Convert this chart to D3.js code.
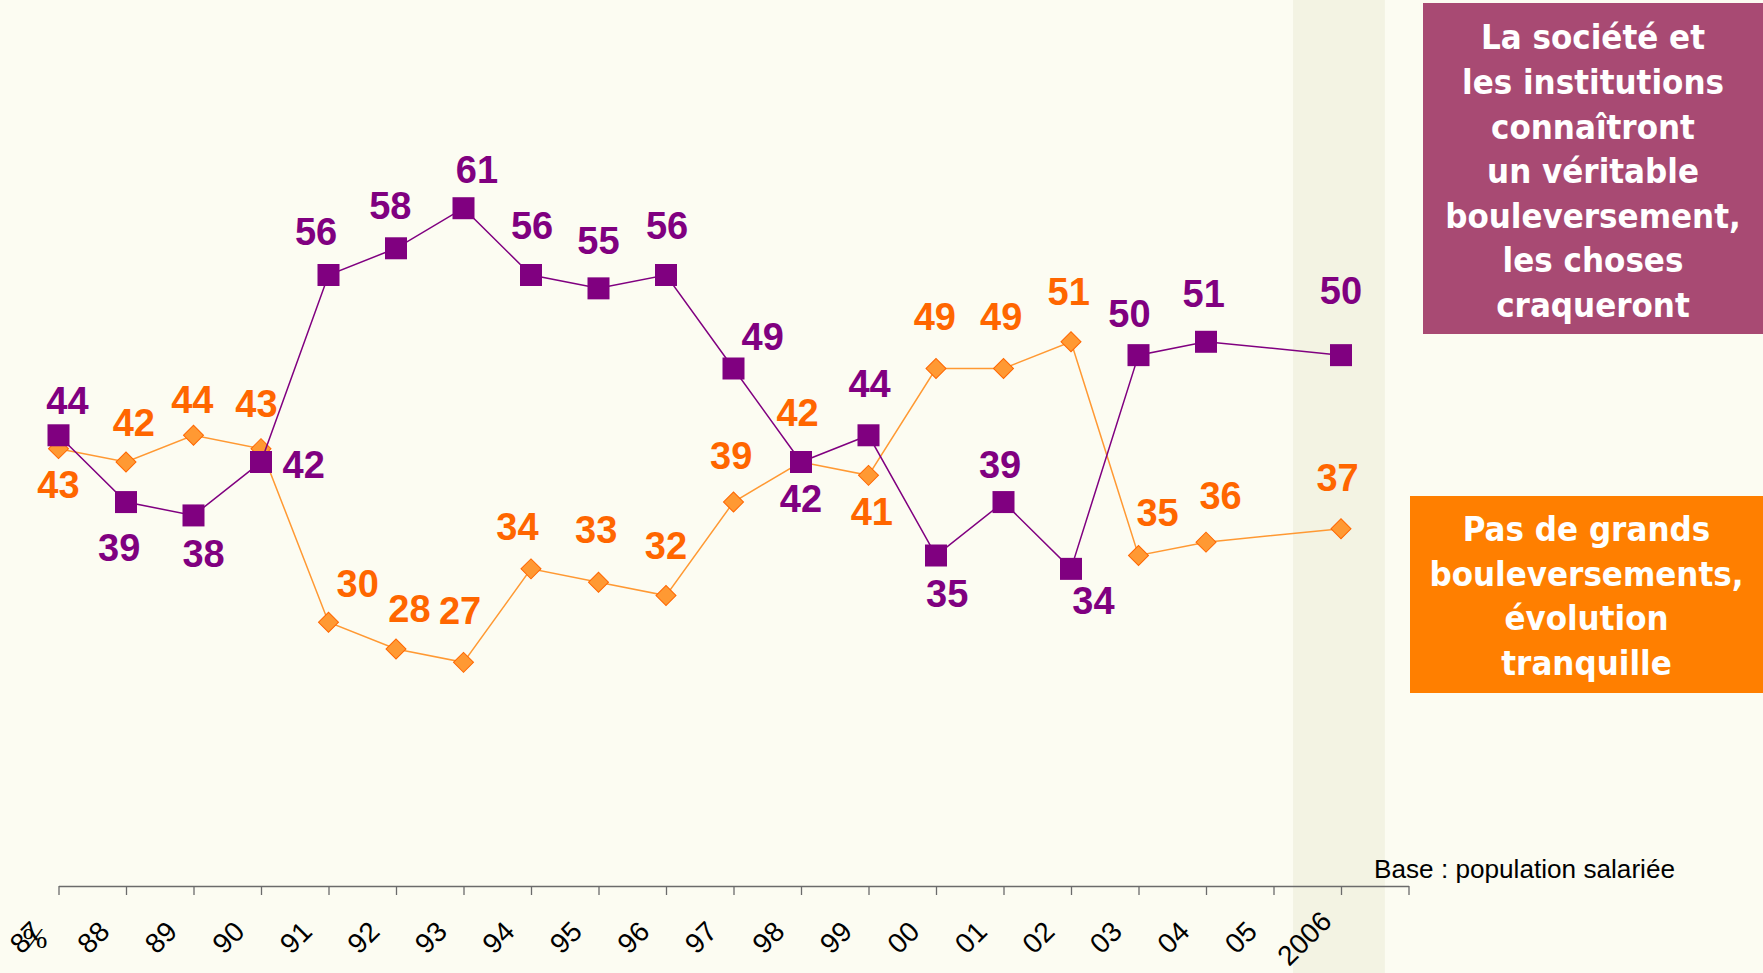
<!DOCTYPE html>
<html>
<head>
<meta charset="utf-8">
<script src="https://cdn.jsdelivr.net/npm/d3@7"></script>
<style>
  html, body { margin: 0; padding: 0; background: #fcfcf2; }
  svg { display: block; }
</style>
</head>
<body>
<div id="chart"></div>
<script>
// années (05 sans mesure)
const categories = ["87", "88", "89", "90", "91", "92", "93", "94", "95", "96", "97", "98", "99", "00", "01", "02", "03", "04", "05", "2006"];
// "La société et les institutions connaîtront un véritable bouleversement"
const bouleversement = [44, 39, 38, 42, 56, 58, 61, 56, 55, 56, 49, 42, 44, 35, 39, 34, 50, 51, null, 50];
// "Pas de grands bouleversements, évolution tranquille"
const tranquille = [43, 42, 44, 43, 30, 28, 27, 34, 33, 32, 39, 42, 41, 49, 49, 51, 35, 36, null, 37];

const purpleText = ["La société et", "les institutions", "connaîtront", "un véritable", "bouleversement,", "les choses", "craqueront"];
const orangeText = ["Pas de grands", "bouleversements,", "évolution", "tranquille"];

// décalage des étiquettes de valeur (px, en coordonnées réduites)
const K = 1763 / 1568;
const purpleLab = [[8,-31],[-6,40],[9,34],[38,2],[-11,-39],[-5,-38],[12,-35],[1,-44],[0,-43],[1,-44],[26,-29],[0,32],[1,-46],[10,34],[-3,-34],[20,28],[-8,-37],[-2,-43],null,[0,-58]];
const orangeLab = [[0,32],[7,-35],[-1,-32],[-4,-40],[26,-35],[12,-36],[-3,-46],[-12,-38],[-2,-47],[0,-45],[-2,-42],[-3,-44],[3,32],[-1,-46],[-2,-46],[-2,-45],[17,-38],[13,-42],null,[-3,-46]];

const W = 1763, H = 973;
const PURPLE = "#800080", ORANGE = "#ff6600", ORANGE_L = "#ff9933";

const svg = d3.select("#chart").append("svg").attr("width", W).attr("height", H);

svg.append("rect").attr("width", W).attr("height", H).attr("fill", "#fcfcf2");

const x = d3.scaleLinear().domain([0, 20]).range([58.5, 1408.5]);
const y = d3.scaleLinear().domain([0, 70]).range([1023, 88]);

// bande 2006
svg.append("rect")
  .attr("x", x(18.29)).attr("y", 0)
  .attr("width", x(19.65) - x(18.29)).attr("height", H)
  .attr("fill", "#f3f3e3");

// axe
const axisG = svg.append("g").attr("transform", "translate(0,886)")
  .call(d3.axisBottom(x).tickValues(d3.range(21)).tickFormat("").tickSize(9).tickSizeOuter(0));
axisG.select(".domain").attr("stroke", "#6b6b6b").attr("stroke-width", 1.5);
axisG.selectAll(".tick line").attr("stroke", "#6b6b6b").attr("stroke-width", 1.3);

svg.append("g").selectAll("text")
  .data(categories)
  .join("text")
  .attr("transform", (d, i) => d.length > 2
    ? `translate(${x(i) - 37},${938}) rotate(-45)`
    : `translate(${x(i) - 33},${937}) rotate(-45)`)
  .attr("text-anchor", "middle")
  .attr("dy", "0.36em")
  .attr("font-family", "Liberation Sans, Arial, sans-serif")
  .attr("font-size", 28)
  .attr("fill", "#000")
  .text(d => d);

svg.append("text")
  .attr("x", 35).attr("y", 948)
  .attr("text-anchor", "middle")
  .attr("font-family", "Liberation Serif, Times New Roman, serif")
  .attr("font-size", 30)
  .text("%");

svg.append("text")
  .attr("x", 1374).attr("y", 878)
  .attr("font-family", "Liberation Sans Narrow, Liberation Sans, Arial, sans-serif")
  .attr("font-size", 26)
  .attr("textLength", 301).attr("lengthAdjust", "spacingAndGlyphs")
  .text("Base : population salariée");

function series(values, lab, lineColor, textColor, marker) {
  const pts = values.map((v, i) => ({ i, v, lab: lab[i] })).filter(d => d.v !== null);
  const line = d3.line().x(d => x(d.i)).y(d => y(d.v));
  const g = svg.append("g");
  g.append("path").datum(pts)
    .attr("d", line).attr("fill", "none")
    .attr("stroke", lineColor).attr("stroke-width", 1.5);
  marker(g.selectAll(null).data(pts).join("path"));
  g.selectAll(null).data(pts).join("text")
    .attr("x", d => x(d.i) + d.lab[0] * K)
    .attr("y", d => y(d.v) + d.lab[1] * K)
    .attr("dy", "0.36em")
    .attr("text-anchor", "middle")
    .attr("font-family", "Liberation Sans, Arial, sans-serif")
    .attr("font-weight", "bold")
    .attr("font-size", 38)
    .attr("fill", textColor)
    .text(d => d.v);
}

// losanges orange d'abord, carrés violets au-dessus
series(tranquille, orangeLab, ORANGE_L, ORANGE, sel => sel
  .attr("d", d3.symbol(d3.symbolSquare, 200))
  .attr("transform", d => `translate(${x(d.i)},${y(d.v)}) rotate(45)`)
  .attr("fill", ORANGE_L).attr("stroke", ORANGE).attr("stroke-width", 1));

series(bouleversement, purpleLab, PURPLE, PURPLE, sel => sel
  .attr("d", d3.symbol(d3.symbolSquare, 22 * 22))
  .attr("transform", d => `translate(${x(d.i)},${y(d.v)})`)
  .attr("fill", PURPLE));

// encadrés de légende
function box(x0, y0, w, h, fill, lines, firstY, step) {
  svg.append("rect").attr("x", x0).attr("y", y0).attr("width", w).attr("height", h).attr("fill", fill);
  svg.append("g").selectAll("text").data(lines).join("text")
    .attr("x", x0 + w / 2)
    .attr("y", (d, i) => firstY + i * step)
    .attr("dy", "0.36em")
    .attr("text-anchor", "middle")
    .attr("font-family", "DejaVu Sans Condensed, DejaVu Sans, sans-serif")
    .attr("font-weight", "bold")
    .attr("font-size", 34.5)
    .attr("fill", "#fff")
    .text(d => d);
}
box(1423, 3, 340, 331, "#a84a73", purpleText, 37, 44.6);
box(1410, 496, 353, 197, "#ff7f00", orangeText, 529, 44.5);
</script>
</body>
</html>
